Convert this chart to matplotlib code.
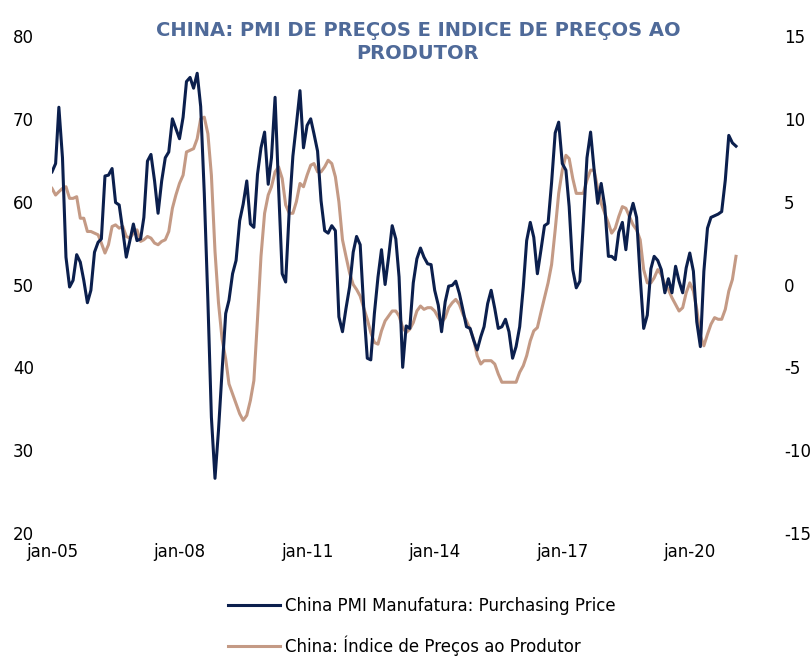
import numpy as np
import pandas as pd
import matplotlib
matplotlib.use("Agg")
import matplotlib.pyplot as plt
from datetime import date

# monthly data, jan-2005 .. feb-2021
pmi_price = [
    63.6, 64.6, 71.4, 65.3, 53.3, 49.7, 50.5, 53.6, 52.7, 50.5, 47.8, 49.3,   # 2005
    53.9, 55.1, 55.5, 63.1, 63.2, 64.0, 59.9, 59.6, 56.5, 53.3, 55.3, 57.3,   # 2006
    55.3, 55.5, 58.1, 64.9, 65.7, 62.5, 58.6, 62.5, 65.3, 66.0, 70.0, 68.8,   # 2007
    67.6, 70.2, 74.5, 75.0, 73.7, 75.5, 71.5, 61.0, 48.0, 34.0, 26.6, 32.4,   # 2008
    39.6, 46.5, 48.1, 51.3, 52.9, 57.7, 59.7, 62.5, 57.3, 56.9, 63.3, 66.5,   # 2009
    68.4, 62.1, 65.3, 72.6, 61.7, 51.3, 50.3, 59.0, 65.5, 69.3, 73.4, 66.5,   # 2010
    69.2, 70.0, 68.2, 66.1, 60.1, 56.5, 56.2, 57.1, 56.5, 46.1, 44.3, 47.1,   # 2011
    49.7, 53.9, 55.8, 54.8, 47.3, 41.1, 40.9, 46.5, 50.9, 54.2, 50.0, 53.3,   # 2012
    57.1, 55.5, 50.9, 40.0, 45.0, 44.7, 50.2, 53.1, 54.4, 53.3, 52.5, 52.4,   # 2013
    49.3, 47.5, 44.3, 47.9, 49.8, 49.9, 50.4, 48.9, 46.9, 44.9, 44.7, 43.3,   # 2014
    42.1, 43.7, 44.9, 47.7, 49.3, 47.1, 44.7, 44.9, 45.8, 44.3, 41.1, 42.5,   # 2015
    44.9, 49.7, 55.3, 57.5, 55.7, 51.3, 54.1, 57.1, 57.4, 62.3, 68.3, 69.6,   # 2016
    64.6, 63.8, 59.4, 51.8, 49.6, 50.4, 57.5, 65.3, 68.4, 63.9, 59.8, 62.2,   # 2017
    59.4, 53.4, 53.4, 53.0, 56.3, 57.5, 54.2, 58.2, 59.8, 58.1, 50.9, 44.7,   # 2018
    46.3, 51.9, 53.4, 52.9, 51.8, 49.0, 50.7, 49.0, 52.2, 50.4, 49.0, 52.0,   # 2019
    53.8, 51.6, 45.5, 42.5, 51.6, 56.8, 58.1, 58.3, 58.5, 58.8, 62.6, 68.0,   # 2020
    67.1, 66.7,                                                               # 2021
]

ppi_yoy = [
    5.8, 5.4, 5.6, 5.8, 5.9, 5.2, 5.2, 5.3, 4.0, 4.0, 3.2, 3.2,
    3.1, 3.0, 2.5, 1.9, 2.4, 3.5, 3.6, 3.4, 3.5, 2.9, 2.8, 3.1,
    3.3, 2.6, 2.7, 2.9, 2.8, 2.5, 2.4, 2.6, 2.7, 3.2, 4.6, 5.4,
    6.1, 6.6, 8.0, 8.1, 8.2, 8.8, 10.0, 10.1, 9.1, 6.6, 2.0, -1.1,
    -3.3, -4.5, -6.0, -6.6, -7.2, -7.8, -8.2, -7.9, -7.0, -5.8, -2.1, 1.7,
    4.3, 5.4, 5.9, 6.8, 7.1, 6.4, 4.8, 4.3, 4.3, 5.0, 6.1, 5.9,
    6.6, 7.2, 7.3, 6.8, 6.8, 7.1, 7.5, 7.3, 6.5, 5.0, 2.7, 1.7,
    0.7, 0.0, -0.3, -0.7, -1.4, -2.1, -2.9, -3.5, -3.6, -2.8, -2.2, -1.9,
    -1.6, -1.6, -1.9, -2.6, -2.9, -2.7, -2.3, -1.6, -1.3, -1.5, -1.4, -1.4,
    -1.6, -2.0, -2.3, -2.0, -1.4, -1.1, -0.9, -1.2, -1.8, -2.2, -2.7, -3.3,
    -4.3, -4.8, -4.6, -4.6, -4.6, -4.8, -5.4, -5.9, -5.9, -5.9, -5.9, -5.9,
    -5.3, -4.9, -4.3, -3.4, -2.8, -2.6, -1.7, -0.8, 0.1, 1.2, 3.3, 5.5,
    6.9, 7.8, 7.6, 6.4, 5.5, 5.5, 5.5, 6.3, 6.9, 6.9, 5.8, 4.9,
    4.3, 3.7, 3.1, 3.4, 4.1, 4.7, 4.6, 4.1, 3.6, 3.3, 2.7, 0.9,
    0.1, 0.1, 0.4, 0.9, 0.6, 0.0, -0.3, -0.8, -1.2, -1.6, -1.4, -0.5,
    0.1, -0.4, -1.5, -3.1, -3.7, -3.0, -2.4, -2.0, -2.1, -2.1, -1.5, -0.4,
    0.3, 1.7,
]

months = pd.date_range("2005-01-01", periods=len(pmi_price), freq="MS")
tick_years = [2005, 2008, 2011, 2014, 2017, 2020]
tick_labels = ["jan-05", "jan-08", "jan-11", "jan-14", "jan-17", "jan-20"]

label_pmi = "China PMI Manufatura: Purchasing Price"
label_ppi = "China: Índice de Preços ao Produtor"
title = "CHINA: PMI DE PREÇOS E INDICE DE PREÇOS AO\nPRODUTOR"

navy = "#0b1f4d"
tan = "#c49a85"

plt.rcParams["font.family"] = "DejaVu Sans"
plt.rcParams["axes.unicode_minus"] = False

W, H = 812, 657
fig = plt.figure(figsize=(W / 100, H / 100), dpi=100)
ax = fig.add_axes([52 / W, 1 - 533 / H, (770 - 52) / W, (533 - 36) / H])
ax2 = ax.twinx()

l1, = ax.plot(months, pmi_price, color=navy, lw=2.2, label=label_pmi, zorder=3)
l2, = ax2.plot(months, ppi_yoy, color=tan, lw=2.2, label=label_ppi, zorder=2)
# keep the PMI line on top of the PPI line
ax.set_zorder(ax2.get_zorder() + 1)
ax.patch.set_visible(False)

ax.set_xlim(date(2005, 1, 1), date(2021, 11, 20))
ax.set_ylim(20, 80)
ax.set_yticks(np.arange(20, 81, 10))
ax2.set_ylim(-15, 15)
ax2.set_yticks(np.arange(-15, 16, 5))

ax.set_xticks([date(y, 1, 1) for y in tick_years])
ax.set_xticklabels(tick_labels)

for a in (ax, ax2):
    for s in a.spines.values():
        s.set_visible(False)
ax.tick_params(axis="x", length=0, pad=7, labelsize=12)
ax.tick_params(axis="y", length=0, pad=13, labelsize=12)
ax2.tick_params(axis="y", length=0, pad=10, labelsize=12)

fig.text(418 / W, 1 - 42 / H, title, ha="center", va="center",
         fontsize=14, fontweight="bold", color="#4f6a99", linespacing=1.3)

fig.legend(handles=[l1, l2], loc="upper left",
           bbox_to_anchor=(228 / W, 1 - 597 / H), frameon=False,
           fontsize=12, handlelength=3.1, handletextpad=0.3,
           labelspacing=1.2, borderpad=0, borderaxespad=0)

fig.savefig("out.png", dpi=100)
